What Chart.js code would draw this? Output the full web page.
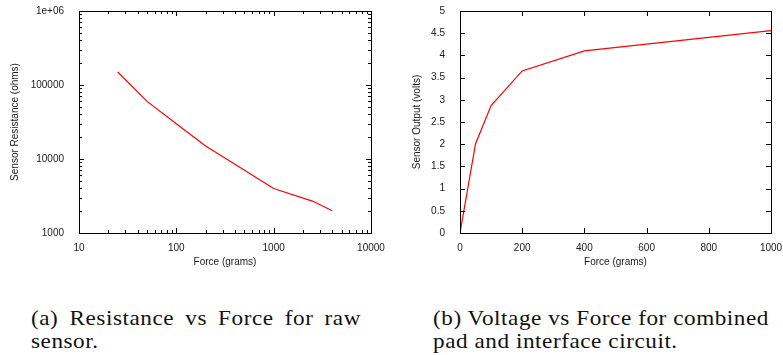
<!DOCTYPE html>
<html>
<head>
<meta charset="utf-8">
<script src="https://cdn.jsdelivr.net/npm/chart.js@4/dist/chart.umd.min.js"></script>
<style>
  html, body { margin: 0; padding: 0; background: #fff; overflow: hidden; }
  body { width: 783px; height: 355px; position: relative; }
  canvas { position: absolute; top: 0; }
  #resChart  { left: 0; }
  #voltChart { left: 392px; }
  .cap {
    position: absolute;
    font-family: "Liberation Serif", "Times New Roman", serif;
    font-size: 21px;
    line-height: 20px;
    letter-spacing: 0.5px;
    color: #111;
    white-space: nowrap;
    transform-origin: 0 50%;
  }
</style>
</head>
<body>
<canvas id="resChart" width="390" height="275"></canvas>
<canvas id="voltChart" width="391" height="275"></canvas>

<div class="cap" style="left:31px;top:308px" data-w="330">(a) Resistance vs Force for raw</div>
<div class="cap" style="left:31px;top:331px">sensor.</div>
<div class="cap" id="capRef" style="left:433px;top:308px" data-w="336">(b) Voltage vs Force for combined</div>
<div class="cap" style="left:433px;top:331px">pad and interface circuit.</div>

<script>
// ── Data ─────────────────────────────────────────────────
const resForce      = [25, 50, 100, 200, 400, 1000, 2500, 4000];
const resOhms       = [150000, 60000, 30000, 15000, 8500, 4000, 2700, 2000];
const resXTicks     = [10, 100, 1000, 10000];
const resYTicks     = [1000, 10000, 100000, 1000000];
const resYLabels    = ['1000', '10000', '100000', '1e+06'];

const voltForce     = [0, 50, 100, 200, 400, 1000];
const voltOut       = [0, 2.01, 2.87, 3.65, 4.1, 4.56];
const voltXTicks    = [0, 200, 400, 600, 800, 1000];
const voltYTicks    = [0, 0.5, 1, 1.5, 2, 2.5, 3, 3.5, 4, 4.5, 5];

// ── Helpers ──────────────────────────────────────────────
const SANS = 'Liberation Sans, Arial, sans-serif';
const INK  = '#1a1a1a';

// gnuplot style frame with inward ticks on all four sides
const gnuplotFrame = {
  id: 'gnuplotFrame',
  afterDatasetsDraw(chart) {
    const { ctx, chartArea: a, scales: { x, y } } = chart;
    ctx.save();
    ctx.strokeStyle = '#000';
    ctx.lineWidth = 1;
    ctx.strokeRect(a.left + 0.5, a.top + 0.5, a.right - a.left, a.bottom - a.top);

    const marks = scale => {
      const out = [];
      if (scale.type === 'logarithmic') {
        for (let d = scale.min; d <= scale.max; d *= 10) {
          out.push({ v: d, len: 5 });
          for (let k = 2; k < 10 && d * k < scale.max; k++) out.push({ v: d * k, len: 3 });
        }
      } else {
        scale.ticks.forEach(t => out.push({ v: t.value, len: 5 }));
      }
      return out;
    };

    ctx.beginPath();
    marks(x).forEach(m => {
      const px = Math.round(x.getPixelForValue(m.v)) + 0.5;
      ctx.moveTo(px, a.bottom); ctx.lineTo(px, a.bottom - m.len);
      ctx.moveTo(px, a.top);    ctx.lineTo(px, a.top + m.len);
    });
    marks(y).forEach(m => {
      const py = Math.round(y.getPixelForValue(m.v)) + 0.5;
      ctx.moveTo(a.left, py);  ctx.lineTo(a.left + m.len, py);
      ctx.moveTo(a.right, py); ctx.lineTo(a.right - m.len, py);
    });
    ctx.stroke();
    ctx.restore();
  },
};

function fixedBox(size, key) {
  return scale => {
    scale[key] = size;
    scale.paddingLeft = scale.paddingRight = scale.paddingTop = scale.paddingBottom = 0;
  };
}

function makeChart(id, cfg) {
  return new Chart(document.getElementById(id), {
    type: 'line',
    data: {
      datasets: [{
        data: cfg.xs.map((v, i) => ({ x: v, y: cfg.ys[i] })),
        borderColor: '#ff0000',
        borderWidth: 1.2,
        pointRadius: 0,
        tension: 0,
        fill: false,
      }],
    },
    options: {
      responsive: false,
      animation: false,
      devicePixelRatio: 1,
      layout: { padding: { top: 11, right: cfg.padRight, bottom: 0, left: 0 } },
      plugins: { legend: { display: false }, tooltip: { enabled: false } },
      scales: {
        x: {
          type: cfg.xType,
          min: cfg.xTicks[0],
          max: cfg.xTicks[cfg.xTicks.length - 1],
          grid: { display: false },
          border: { display: false },
          afterBuildTicks: s => { s.ticks = cfg.xTicks.map(v => ({ value: v })); },
          afterFit: fixedBox(42, 'height'),
          ticks: {
            padding: 1, maxRotation: 0, autoSkip: false,
            color: INK, font: { family: SANS, size: 10 },
            callback: v => String(v),
          },
          title: {
            display: true, text: 'Force (grams)', color: INK,
            font: { family: SANS, size: 10 }, padding: { top: 0, bottom: 7 },
          },
        },
        y: {
          type: cfg.yType,
          min: cfg.yTicks[0],
          max: cfg.yTicks[cfg.yTicks.length - 1],
          grid: { display: false },
          border: { display: false },
          afterBuildTicks: s => { s.ticks = cfg.yTicks.map(v => ({ value: v })); },
          afterFit: fixedBox(cfg.yWidth, 'width'),
          ticks: {
            padding: 7, autoSkip: false,
            color: INK, font: { family: SANS, size: 10 },
            callback: cfg.yLabel,
          },
          title: {
            display: true, text: cfg.yTitle, color: INK,
            font: { family: SANS, size: 10 }, padding: { top: cfg.yTitlePad, bottom: 0 },
          },
        },
      },
    },
    plugins: [gnuplotFrame],
  });
}

// ── Charts ───────────────────────────────────────────────
makeChart('resChart', {
  xs: resForce, ys: resOhms,
  xType: 'logarithmic', yType: 'logarithmic',
  xTicks: resXTicks, yTicks: resYTicks,
  yLabel: (v, i) => resYLabels[i],
  yTitle: 'Sensor Resistance (ohms)',
  yWidth: 79, yTitlePad: 9, padRight: 19,
});

makeChart('voltChart', {
  xs: voltForce, ys: voltOut,
  xType: 'linear', yType: 'linear',
  xTicks: voltXTicks, yTicks: voltYTicks,
  yLabel: v => String(v),
  yTitle: 'Sensor Output (volts)',
  yWidth: 68, yTitlePad: 19, padRight: 12,
});

// ── Captions: one common glyph widening, justified first lines ──
const refCap = document.getElementById('capRef');
const capScale = +refCap.dataset.w / refCap.getBoundingClientRect().width;
document.querySelectorAll('.cap').forEach(el => {
  if (el.dataset.w && el !== refCap) {
    const spaces = (el.textContent.match(/ /g) || []).length;
    const extra = +el.dataset.w / capScale - el.getBoundingClientRect().width;
    if (extra > 0) el.style.wordSpacing = (extra / spaces) + 'px';
  }
  el.style.transform = 'scaleX(' + capScale + ')';
});
</script>
</body>
</html>
